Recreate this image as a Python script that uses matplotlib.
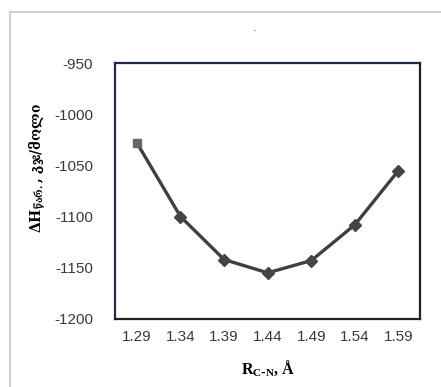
import matplotlib
matplotlib.use("Agg")
import matplotlib.pyplot as plt
from matplotlib.lines import Line2D

# data
bond_lengths = ["1.29", "1.34", "1.39", "1.44", "1.49", "1.54", "1.59"]
enthalpy = [-1028, -1100, -1142, -1155, -1143, -1108, -1055]
yticks = [-1200, -1150, -1100, -1050, -1000, -950]

plt.rcParams['axes.unicode_minus'] = False
plt.rcParams['mathtext.fontset'] = 'custom'
plt.rcParams['mathtext.bf'] = 'Liberation Serif:bold'
plt.rcParams['mathtext.rm'] = 'DejaVu Serif:bold'

fig = plt.figure(figsize=(4.41, 3.87), dpi=100)
ax = fig.add_axes([0.261, 0.176, 0.692, 0.661])

xs = range(len(bond_lengths))
ax.plot(xs, enthalpy, color='#404040', lw=2.4, zorder=2)
ax.plot(xs[1:], enthalpy[1:], ls='none', marker='D', ms=6.5, color='#444444', zorder=3)
ax.plot(xs[:1], enthalpy[:1], ls='none', marker='s', ms=6, color='#666666', zorder=3)

ax.set_xlim(-0.5, len(bond_lengths) - 0.5)
ax.set_ylim(-1200, -950)
ax.set_xticks(list(xs))
ax.set_xticklabels(bond_lengths)
ax.set_yticks(yticks)
ax.tick_params(length=0, labelsize=11, labelcolor='#3a3a3a', pad=8)
ax.tick_params(axis='y', pad=16)
for lab in ax.get_xticklabels() + ax.get_yticklabels():
    lab.set_family('Liberation Sans')

for s in ax.spines.values():
    s.set_color('#222222')
    s.set_linewidth(1.6)
ax.spines['left'].set_color('#1f2a44')
ax.spines['top'].set_color('#1f2a44')

ax.set_xlabel(r'$\mathbf{R_{C\text{-}N}}$' + ', Å', fontsize=11.5, fontweight='bold',
              family='Liberation Serif', labelpad=10)
fig.text(0.084, 0.565, r'ΔH$_{\mathrm{წარ.}}$, კჯ/მოლი', rotation=90, ha='center', va='center',
         fontsize=10, fontweight='bold', family='DejaVu Serif')
fig.text(0.578, 0.93, '.', ha='center', va='center', fontsize=9, color='#3b5b8a')

# light outer frame (top and left edges visible)
fig.add_artist(Line2D([0.022, 1.0], [0.968, 0.968], color='#c8c8c8', lw=1.2, transform=fig.transFigure))
fig.add_artist(Line2D([0.022, 0.022], [0.0, 0.968], color='#c8c8c8', lw=1.2, transform=fig.transFigure))

fig.savefig('out.png', dpi=100)
